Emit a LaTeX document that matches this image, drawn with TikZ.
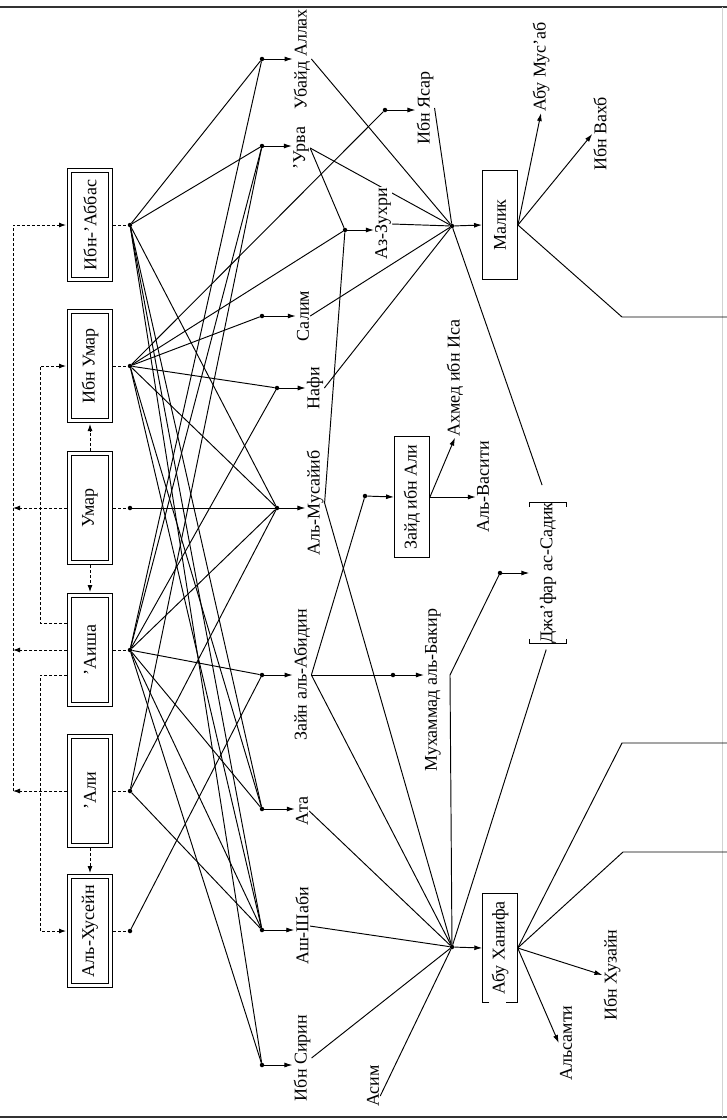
\documentclass[tikz,border=0pt]{standalone}
\usepackage{graphicx}
\usepackage{fontspec}
\setmainfont{Liberation Serif}
\usetikzlibrary{arrows.meta, backgrounds, positioning}
\newcommand{\vtext}[1]{\rotatebox{90}{#1}}

\begin{document}
\begin{tikzpicture}[x=1pt, y=-1pt, font=\fontsize{18}{20}\selectfont,
  person/.style={draw, line width=1pt, minimum width=45pt, minimum height=113pt, inner sep=0pt},
  boxframe/.style={minimum width=35pt, minimum height=109pt, inner sep=0pt},
  imam/.style={boxframe, draw, line width=0.9pt},
  who/.style={fill=white, inner sep=1pt},
  knot/.style={circle, fill, inner sep=0pt, minimum size=4.5pt},
  link/.style={line width=0.95pt},
  arr/.style={line width=0.95pt, -{Latex[length=8pt, width=5pt]}},
  dsh/.style={line width=0.9pt, dash pattern=on 3pt off 2pt},
  dsharr/.style={dsh, -{Latex[length=7pt, width=5pt]}}]
\useasboundingbox (0,0) rectangle (727,1120);

\node[person] (abbas) at (90,225) {\vtext{Ибн-'Аббас}};
\node[person] (ibnumar) at (90,366) {\vtext{Ибн Умар}};
\node[person] (umar) at (90,508) {\vtext{Умар}};
\node[person] (aisha) at (90,650) {\vtext{'Аиша}};
\node[person] (ali) at (90,791) {\vtext{'Али}};
\node[person] (husain) at (90,931) {\vtext{Аль-Хусейн}};
\foreach \b in {abbas, ibnumar, umar, aisha, ali, husain}
  \draw[line width=0.8pt] ([shift={(4.5pt,-4.5pt)}]\b.north west) rectangle ([shift={(-4.5pt,4.5pt)}]\b.south east);

\node[knot] (dAbbas) at (130,225) {};
\node[knot] (dIbnUmar) at (130,366) {};
\node[knot] (dUmar) at (130,508) {};
\node[knot] (dAisha) at (130,650) {};
\node[knot] (dAli) at (130,791) {};
\node[knot] (dHusain) at (130,931) {};

\node[knot] (dUbaid) at (262,59) {};
\node[knot] (dUrwa) at (262,146) {};
\node[knot] (dSalim) at (262,316) {};
\node[knot] (dNafi) at (277,388) {};
\node[knot] (dMus) at (277,508) {};
\node[knot] (dZayn) at (262,675) {};
\node[knot] (dAta) at (262,809) {};
\node[knot] (dShabi) at (262,930) {};
\node[knot] (dSirin) at (262,1065) {};

\node[who] (ubaid) at (302,59) {\vtext{Убайд Аллах}};
\node[who] (urwa) at (301,148) {\vtext{'Урва}};
\node[who] (salim) at (303,316) {\vtext{Салим}};
\node[who] (nafi) at (315,388) {\vtext{Нафи}};
\node[who] (musayyib) at (315,503) {\vtext{Аль-Мусайиб}};
\node[who] (zayn) at (302,675) {\vtext{Зайн аль-Абидин}};
\node[who] (ata) at (302,811) {\vtext{Ата}};
\node[who] (shabi) at (302,926) {\vtext{Аш-Шаби}};
\node[who] (sirin) at (302,1058) {\vtext{Ибн Сирин}};
\node[who] (asim) at (373,1086) {\vtext{Асим}};

\node[knot] (dYasar) at (385,110) {};
\node[who] (yasar) at (425,108) {\vtext{Ибн Ясар}};
\node[knot] (dZuhri) at (345,230) {};
\node[who] (zuhri) at (383,224) {\vtext{Аз-Зухри}};
\node[knot] (jMalik) at (452,226) {};
\node[imam] (malik) at (500,225) {\vtext{Малик}};
\node[who] (musab) at (541,67) {\vtext{Абу Мус'аб}};
\node[who] (wahb) at (600,134) {\vtext{Ибн Вахб}};

\node[knot] (dZayd) at (365,496) {};
\node[imam, minimum height=121pt] (zayd) at (412,497) {\vtext{Зайд ибн Али}};
\node[who] (ahmad) at (455,378) {\vtext{Ахмед ибн Иса}};
\node[who] (wasiti) at (483,487) {\vtext{Аль-Васити}};

\node[knot] (dBaqir) at (393,675) {};
\node[who] (baqir) at (433,690) {\vtext{Мухаммад аль-Бакир}};
\coordinate (bq) at (450,675);
\node[knot] (dJafar) at (500,573) {};
\node[boxframe, minimum width=37pt, minimum height=123pt] (jafar) at (548,573) {\vtext{Джа'фар ас-Садик}};

\node[knot] (jHanifa) at (452,947) {};
\node[boxframe] (hanifa) at (500,948) {\vtext{Абу Ханифа}};
\node[who] (samti) at (566,1043) {\vtext{Альсамти}};
\node[who] (huzain) at (612,975) {\vtext{Ибн Хузайн}};

\coordinate (railA) at (13,225);
\coordinate (railB) at (40,366);
\coordinate (aishaTop) at ([yshift=27pt]aisha.west);
\coordinate (aishaLow) at ([yshift=-25pt]aisha.west);
\coordinate (asimEnd) at ([yshift=-10pt]asim.east);
\coordinate (outMalik) at (727,317);
\coordinate (outHanA) at (727,743);
\coordinate (outHanB) at (727,852);

\begin{scope}[on background layer]
  \draw[line width=1.5pt, black!80] (0,7) -- (727,7) (0,1117) -- (727,1117);
  \draw[gray!35] (722,7) -- (722,1117);
  \foreach \a/\b in {dAbbas/dUbaid, dAbbas/dUrwa, dAbbas/dMus, dAbbas/dAta, dAbbas/dShabi, dAbbas/dSirin,
                     dIbnUmar/dYasar, dIbnUmar/dZuhri, dIbnUmar/dSalim, dIbnUmar/dNafi, dIbnUmar/dMus, dIbnUmar/dShabi, dIbnUmar/dAta,
                     dUmar/dMus,
                     dAisha/dUbaid, dAisha/dUrwa, dAisha/dNafi, dAisha/dMus, dAisha/dZayn, dAisha/dAta, dAisha/dShabi, dAisha/dSirin,
                     dAli/dUrwa, dAli/dMus, dAli/dShabi,
                     dHusain/dZayn}
    \draw[link] (\a) -- (\b);
  \foreach \a in {ubaid.east, urwa.east, salim.east, nafi.east, zuhri.east, yasar.east}
    \draw[link] (\a) -- (jMalik);
  \foreach \a in {ata.east, shabi.east, sirin.east, asimEnd, zayn.east, musayyib.east, bq}
    \draw[link] (\a) -- (jHanifa);
  \draw[link] (urwa.east) -- (dZuhri);
  \draw[link] (musayyib.east) -- (dZuhri);
  \draw[link] (zayn.east) -- (dBaqir);
  \draw[link] (zayn.east) -- (dZayd);
  \draw[link] (bq) -- (dJafar);
  \draw[link, shorten <=18pt] (jafar.north) -- (jMalik);
  \draw[link, shorten <=6pt] (jafar.south) -- (jHanifa);
  \draw[link] (malik.east) -- (622,317) -- (outMalik);
  \draw[link] (hanifa.east) -- (622,743) -- (outHanA);
  \draw[link] (hanifa.east) -- (623,852) -- (outHanB);
\end{scope}

\foreach \d/\n in {dUbaid/ubaid, dUrwa/urwa, dSalim/salim, dNafi/nafi, dMus/musayyib, dZayn/zayn, dAta/ata, dShabi/shabi, dSirin/sirin, dYasar/yasar, dZuhri/zuhri}
  \draw[arr] (\d) -- (\d -| \n.west);
\draw[arr] (dBaqir) -- (dBaqir -| baqir.west);
\draw[arr] (dZayd) -- (zayd.west);
\draw[arr] (dJafar) -- (jafar.west);
\draw[arr] (jMalik) -- (malik.west);
\draw[arr] (jHanifa) -- (hanifa.west);
\draw[arr] (zayd.east) -- (ahmad.south);
\draw[arr] (zayd.east) -- (zayd.east -| wasiti.west);
\draw[arr] (malik.east) -- (musab.south);
\draw[arr] (malik.east) -- (wahb.west);
\draw[arr] (hanifa.east) -- (samti.west);
\draw[arr] (hanifa.east) -- (huzain.west);

\draw[link] ([yshift=-5pt]jafar.north west) -- (jafar.north west) -- (jafar.north east) -- ([yshift=-5pt]jafar.north east);
\draw[link] ([yshift=5pt]jafar.south west) -- (jafar.south west) -- (jafar.south east) -- ([yshift=5pt]jafar.south east);
\draw[link] ([xshift=7pt]hanifa.south west) -- (hanifa.south west) -- (hanifa.north west) -- (hanifa.north east) -- (hanifa.south east) -- ([xshift=-12pt]hanifa.south east);

\foreach \b/\d in {abbas/dAbbas, ibnumar/dIbnUmar, umar/dUmar, aisha/dAisha, ali/dAli, husain/dHusain}
  \draw[dsh] (\b.east) -- (\d);
\draw[dsharr] (umar.west) -- (umar.west -| railA);
\draw[dsharr] (aisha.west) -- (aisha.west -| railA);
\draw[dsharr] (ali.west) -- (ali.west -| railA);
\draw[dsharr, shorten >=1pt] (ali.west -| railA) -- (railA) -- (abbas.west);
\draw[dsharr, shorten >=1pt] (aishaTop) -- (aishaTop -| railB) -- (railB) -- (ibnumar.west);
\draw[dsharr, shorten >=1pt] (aishaLow) -- (aishaLow -| railB) -- (husain.west -| railB) -- (husain.west);
\draw[dsharr, shorten >=1pt] (umar.north) -- (ibnumar.south);
\draw[dsharr, shorten >=1pt] (umar.south) -- (aisha.north);
\draw[dsharr, shorten >=1pt] (ali.south) -- (husain.north);
\end{tikzpicture}
\end{document}
